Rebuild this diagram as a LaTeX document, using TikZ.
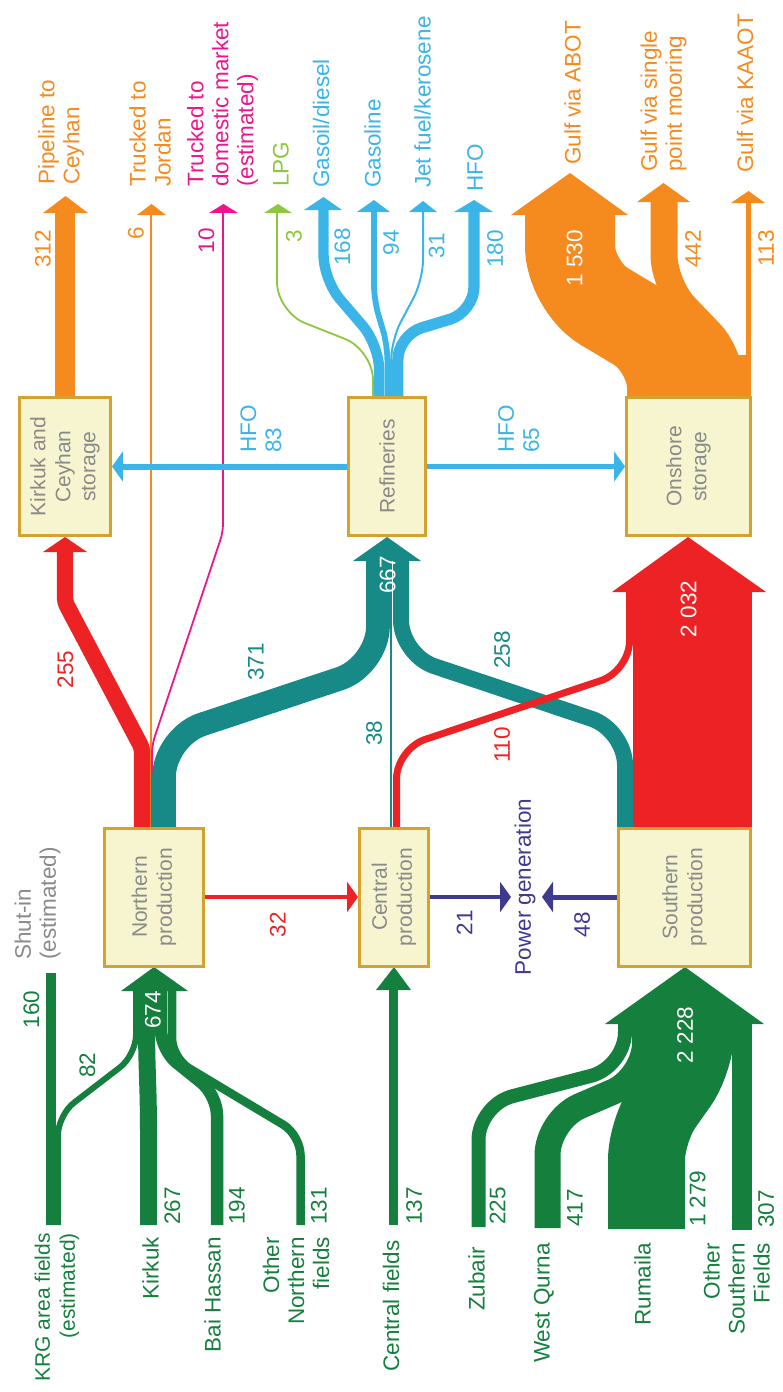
\documentclass[tikz,border=0pt]{standalone}
\usepackage{fontspec}
\setmainfont{Liberation Sans}
\usetikzlibrary{arrows.meta}
\definecolor{crude}{HTML}{157F3E}
\definecolor{exportred}{HTML}{ED2224}
\definecolor{refteal}{HTML}{178987}
\definecolor{gulforange}{HTML}{F58A1F}
\definecolor{truckpink}{HTML}{EC168C}
\definecolor{prodblue}{HTML}{3BB5E7}
\definecolor{lpggreen}{HTML}{8DC63F}
\definecolor{powerpurple}{HTML}{403A8E}
\definecolor{boxfill}{HTML}{F6F5D0}
\definecolor{boxline}{HTML}{D5A32D}
\definecolor{boxtext}{HTML}{8A8A8A}

\begin{document}
\begin{tikzpicture}
  [
  x=1pt,y=-1pt,
  box/.style={rotate=90,draw=boxline,fill=boxfill,line width=3pt,minimum width=138pt,inner sep=0pt,align=center,text=boxtext,font=\fontsize{21}{25}\selectfont},
  lbl/.style={rotate=90,inner sep=0pt,font=\fontsize{22.5}{25}\selectfont},
  band/.style={line width=#1,line cap=butt,line join=round},
  hline/.style={line width=#1,-{Triangle[length=11pt,width=30pt]}}
  ]
  \useasboundingbox (0,0) rectangle (782,1392);

  % fields into production
  \draw[band=10pt,crude] (50.5,1225) -- (50.5,973);
  \draw[band=6pt,crude,rounded corners=20pt] (58,1225) -- (58,1115) -- (136,1055) -- (136,990);
  \draw[band=17pt,crude,rounded corners=20pt] (148.5,1225) -- (148.5,1110) -- (146.5,1045) -- (146.5,990);
  \draw[band=12.5pt,crude,rounded corners=20pt] (217,1225) -- (217,1095) -- (161,1050) -- (161,990);
  \draw[band=8.5pt,crude,rounded corners=20pt] (300.5,1225) -- (300.5,1135) -- (172,1058) -- (172,990);
  \fill[crude] (121,991) -- (154,967) -- (188,991) -- cycle;
  \draw[band=9pt,crude] (393,1225) -- (393,989);
  \fill[crude] (376,990) -- (394,967) -- (411,990) -- cycle;
  \draw[band=14pt,crude,rounded corners=35pt] (478.5,1227) -- (478.5,1105) -- (625,1067) -- (625,1023);
  \draw[band=26pt,crude,rounded corners=35pt] (547.5,1228) -- (547.5,1120) -- (645,1078) -- (645,1023);
  \draw[band=77pt,crude,rounded corners=30pt] (646.5,1229) -- (646.5,1130) -- (696,1060) -- (696,1023);
  \draw[band=20pt,crude] (742,1230) -- (742,1023);
  \fill[crude] (605,1024) -- (685,967) -- (764,1024) -- cycle;

  % production to storage and refineries
  \draw[band=2pt,gulforange] (150.5,831) -- (150.5,214);
  \fill[gulforange] (137,215) -- (151.5,204) -- (166,215) -- cycle;
  \draw[band=1.8pt,truckpink,rounded corners=8pt] (152,831) -- (152,745) -- (223,532) -- (223,212);
  \fill[truckpink] (209,213) -- (223.5,204) -- (238,213) -- cycle;
  \draw[band=16.3pt,exportred,rounded corners=4pt] (142,831) -- (142,748) -- (65,602) -- (65,551);
  \fill[exportred] (43,552) -- (65,537) -- (87,552) -- cycle;
  \draw[band=23.7pt,refteal,rounded corners=40pt] (164,831) -- (164,737) -- (378,666) -- (378,560);
  \draw[band=2.4pt,refteal] (391,831) -- (391,560);
  \draw[band=16pt,refteal,rounded corners=35pt] (625,831) -- (625,730) -- (401,655) -- (401,560);
  \draw[band=7pt,exportred,rounded corners=30pt] (396.5,831) -- (396.5,749) -- (629.5,671) -- (629.5,591);
  \fill[refteal] (353,561) -- (387,537) -- (421,561) -- cycle;
  \fill[exportred] (633,831) rectangle (752,591);
  \fill[exportred] (612,592) -- (688,537) -- (766,592) -- cycle;

  % products and exports
  \draw[band=20pt,gulforange] (65,400) -- (65,212);
  \fill[gulforange] (43,213) -- (65.5,196) -- (88,213) -- cycle;
  \draw[band=1.8pt,lpggreen,rounded corners=30pt] (373,400) -- (373,350) -- (277,312) -- (277,212);
  \fill[lpggreen] (264,213) -- (278,204) -- (292,213) -- cycle;
  \draw[band=10.4pt,prodblue,rounded corners=25pt] (379.2,400) -- (379.2,345) -- (323.5,280) -- (323.5,209);
  \fill[prodblue] (304,210) -- (323.5,197) -- (342,210) -- cycle;
  \draw[band=5.8pt,prodblue,rounded corners=15pt] (387.4,400) -- (387.4,345) -- (374,300) -- (374,211);
  \fill[prodblue] (357,212) -- (374,200) -- (390,212) -- cycle;
  \draw[band=2pt,prodblue,rounded corners=20pt] (391.2,400) -- (391.2,340) -- (423,280) -- (423,211);
  \fill[prodblue] (409,212) -- (423,201) -- (437,212) -- cycle;
  \draw[band=11.2pt,prodblue,rounded corners=25pt] (397.8,400) -- (397.8,335) -- (474,312) -- (474,211);
  \fill[prodblue] (454,212) -- (474,200) -- (493,212) -- cycle;
  \draw[band=90pt,gulforange,rounded corners=40pt] (672,400) -- (672,347) -- (570,286) -- (570,214);
  \fill[gulforange] (511,215) -- (570,173) -- (628,215) -- cycle;
  \draw[band=27pt,gulforange,rounded corners=30pt] (731,400) -- (731,355) -- (664,285) -- (664,201);
  \fill[gulforange] (637,202) -- (663.5,183) -- (690,202) -- cycle;
  \draw[band=5pt,gulforange] (748.5,400) -- (748.5,202);
  \fill[gulforange] (731,203) -- (748.5,191) -- (765,203) -- cycle;
  \fill[gulforange] (690,355) rectangle (750.5,400);

  % boxes
  \node[box,minimum height=99pt] (north) at (154,897) {Northern\\production};
  \node[box,minimum height=69pt] (central) at (394,897) {Central\\production};
  \node[box,minimum height=132pt] (south) at (684.5,897) {Southern\\production};
  \node[box,minimum height=91pt] (kstore) at (65,466.5) {Kirkuk and\\Ceyhan\\storage};
  \node[box,minimum height=77pt] (refin) at (387,466.5) {Refineries};
  \node[box,minimum height=124pt] (onshore) at (688.5,466.5) {Onshore\\storage};

  \coordinate (pgleft) at (511,897);
  \coordinate (pgright) at (542,897);
  \draw[hline=3.5pt,exportred] (north.south) -- (central.north);
  \draw[hline=3.5pt,powerpurple] (central.south) -- (pgleft);
  \draw[hline=5pt,powerpurple] (south.north) -- (pgright);
  \draw[hline=6pt,prodblue] (refin.north) -- (kstore.south);
  \draw[hline=4.5pt,prodblue] (refin.south) -- (onshore.north);

  % field labels
  \node[lbl,text=crude,anchor=east,align=right,font=\fontsize{21}{25}\selectfont] (krg) at (57,1233) {KRG area fields\\(estimated)};
  \node[lbl,text=crude,anchor=east] (kirkuk) at (150.5,1237) {Kirkuk};
  \node[lbl,text=crude,anchor=east] (baihassan) at (212.5,1237) {Bai Hassan};
  \node[lbl,text=crude,anchor=east,align=right] (othernorth) at (296,1237) {Other\\Northern\\fields};
  \node[lbl,text=crude,anchor=east] (centralf) at (391,1240) {Central fields};
  \node[lbl,text=crude,anchor=east] (zubair) at (476.5,1247) {Zubair};
  \node[lbl,text=crude,anchor=east] (westqurna) at (544,1243) {West Qurna};
  \node[lbl,text=crude,anchor=east] (rumaila) at (642.5,1243) {Rumaila};
  \node[lbl,text=crude,anchor=east,align=right] (othersouth) at (736.5,1243) {Other\\Southern\\Fields};
  \node[lbl,text=crude,anchor=west] (n267) at (172.5,1225) {267};
  \node[lbl,text=crude,anchor=west] (n194) at (237,1225) {194};
  \node[lbl,text=crude,anchor=west] (n131) at (319,1225) {131};
  \node[lbl,text=crude,anchor=west] (n137) at (414,1225) {137};
  \node[lbl,text=crude,anchor=west] (n225) at (497.5,1225) {225};
  \node[lbl,text=crude,anchor=west] (n417) at (575,1227) {417};
  \node[lbl,text=crude,anchor=west] (n1279) at (697.5,1227) {1 279};
  \node[lbl,text=crude,anchor=west] (n307) at (766,1228) {307};
  \node[lbl,text=crude] (n82) at (87.5,1065) {82};
  \node[lbl,text=crude] (n160) at (31.5,1009.5) {160};
  \node[lbl,text=white] (n674) at (153,1010) {674};
  \node[lbl,text=white] (n2228) at (685,1035) {2 228};
  \node[lbl,text=boxtext,anchor=west,align=left] (shutin) at (37.5,960) {Shut-in\\(estimated)};

  % middle labels
  \node[lbl,text=exportred] (n32) at (278,924.5) {32};
  \node[lbl,text=powerpurple] (n21) at (464.5,922.5) {21};
  \node[lbl,text=powerpurple] (n48) at (582,924.5) {48};
  \node[lbl,text=powerpurple] (power) at (525,887) {Power generation};
  \node[lbl,text=exportred] (n255) at (65.5,669.5) {255};
  \node[lbl,text=refteal] (n371) at (256,662) {371};
  \node[lbl,text=refteal] (n38) at (374,733) {38};
  \node[lbl,text=refteal] (n258) at (502,650) {258};
  \node[lbl,text=exportred] (n110) at (502,745) {110};
  \node[lbl,text=white] (n667) at (387.5,575) {667};
  \node[lbl,text=white] (n2032) at (688.5,609) {2 032};
  \node[lbl,text=prodblue,anchor=west,align=left] (hfo83) at (261,453) {HFO\\83};
  \node[lbl,text=prodblue,anchor=west,align=left] (hfo65) at (518.5,453) {HFO\\65};

  % top labels
  \node[lbl,text=gulforange,anchor=east] (n312) at (43,230) {312};
  \node[lbl,text=gulforange,anchor=east] (n6) at (136,227) {6};
  \node[lbl,text=truckpink,anchor=east] (n10) at (206.5,228) {10};
  \node[lbl,text=lpggreen,anchor=east] (n3) at (294,230) {3};
  \node[lbl,text=prodblue,anchor=east] (n168) at (342.5,228) {168};
  \node[lbl,text=prodblue,anchor=east] (n94) at (391,230) {94};
  \node[lbl,text=prodblue,anchor=east] (n31) at (436.5,233) {31};
  \node[lbl,text=prodblue,anchor=east] (n180) at (495,230) {180};
  \node[lbl,text=white,anchor=east] (n1530) at (574.5,230) {1 530};
  \node[lbl,text=gulforange,anchor=east] (n442) at (693,230) {442};
  \node[lbl,text=gulforange,anchor=east] (n113) at (766,230) {113};
  \node[lbl,text=gulforange,anchor=west,align=left] (ceyhan) at (61,185) {Pipeline to\\Ceyhan};
  \node[lbl,text=gulforange,anchor=west,align=left] (jordan) at (150,187) {Trucked to\\Jordan};
  \node[lbl,text=truckpink,anchor=west,align=left] (domestic) at (222.5,187) {Trucked to\\domestic market\\(estimated)};
  \node[lbl,text=lpggreen,anchor=west] (lpg) at (281,187) {LPG};
  \node[lbl,text=prodblue,anchor=west] (gasoil) at (321,188) {Gasoil/diesel};
  \node[lbl,text=prodblue,anchor=west] (gasoline) at (372.5,188) {Gasoline};
  \node[lbl,text=prodblue,anchor=west] (jetfuel) at (422.5,188) {Jet fuel/kerosene};
  \node[lbl,text=prodblue,anchor=west] (hfo) at (475,192) {HFO};
  \node[lbl,text=gulforange,anchor=west] (abot) at (572.5,165) {Gulf via ABOT};
  \node[lbl,text=gulforange,anchor=west,align=left] (spm) at (663.5,172) {Gulf via single\\point mooring};
  \node[lbl,text=gulforange,anchor=west] (kaaot) at (745,173) {Gulf via KAAOT};
\end{tikzpicture}
\end{document}
